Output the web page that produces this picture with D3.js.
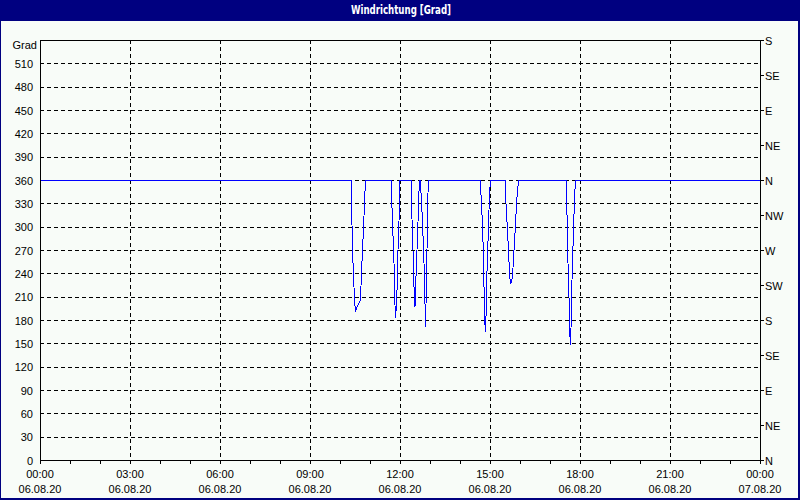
<!DOCTYPE html>
<html>
<head>
<meta charset="utf-8">
<script src="https://cdn.jsdelivr.net/npm/d3@7"></script>
<style>
  html, body { margin: 0; padding: 0; background: #f8fcf8; }
  svg { display: block; }
  text { font-family: Tahoma, "Liberation Sans", Arial, sans-serif; }
</style>
</head>
<body>
<svg id="chart" width="800" height="500"></svg>
<script>
// ---- data ----
const title = "Windrichtung [Grad]";
const yUnit = "Grad";
// time in minutes since 06.08.20 00:00
const minutes = [
  0, 620, 622, 623, 625, 629, 631, 633, 636, 640, 641, 643, 645, 647, 649, 651,
  702, 703, 705, 707, 709, 710, 711, 713, 715, 716, 718, 719, 720,
  742, 743, 746, 747, 750, 752, 754, 756, 757, 759,
  761, 762, 765, 767, 769, 770, 771, 772, 773, 774, 775, 776, 777,
  880, 882, 885, 887, 888, 889, 891, 892, 893, 895, 897, 899, 901,
  930, 932, 935, 937, 939, 941, 943, 945, 948, 951, 953, 957,
  1052, 1053, 1055, 1056, 1058, 1059, 1061, 1062, 1063, 1065, 1067, 1069, 1071,
  1440
];
const direction = [
  360, 360, 360, 334, 270, 206, 191, 195, 199, 204, 208, 240, 270, 298, 330, 360,
  360, 343, 307, 270, 236, 199, 182, 199, 236, 270, 307, 343, 360,
  360, 330, 270, 236, 197, 236, 270, 306, 330, 360,
  360, 343, 307, 270, 236, 200, 171, 200, 236, 270, 307, 343, 360,
  360, 341, 302, 261, 223, 184, 164, 184, 223, 261, 302, 341, 360,
  360, 330, 294, 270, 240, 226, 230, 236, 270, 302, 330, 360,
  360, 336, 296, 253, 210, 169, 148, 169, 210, 253, 296, 336, 360,
  360
];
const yTicks = [0, 30, 60, 90, 120, 150, 180, 210, 240, 270, 300, 330, 360, 390, 420, 450, 480, 510];
const compassTicks = [0, 45, 90, 135, 180, 225, 270, 315, 360, 405, 450, 495, 540];
const compassLabels = ["N", "NE", "E", "SE", "S", "SW", "W", "NW", "N", "NE", "E", "SE", "S"];
const xTickMinutes = [0, 180, 360, 540, 720, 900, 1080, 1260, 1440];
const xTickTimes = ["00:00", "03:00", "06:00", "09:00", "12:00", "15:00", "18:00", "21:00", "00:00"];
const xTickDates = ["06.08.20", "06.08.20", "06.08.20", "06.08.20", "06.08.20", "06.08.20", "06.08.20", "06.08.20", "07.08.20"];
const hourTicks = d3.range(0, 1441, 60);

// ---- layout ----
const W = 800, H = 500;
const plot = { left: 40, right: 760, top: 40, bottom: 460 };
const svg = d3.select("#chart");

const x = d3.scaleLinear().domain([0, 1440]).range([plot.left, plot.right]);
const y = d3.scaleLinear().domain([0, 540]).range([plot.bottom, plot.top]);

// background & frame
svg.append("rect").attr("x", 0).attr("y", 0).attr("width", W).attr("height", H).attr("fill", "#f8fcf8");
svg.append("rect").attr("x", 0).attr("y", 0).attr("width", W).attr("height", 21).attr("fill", "#000080");
svg.append("rect").attr("x", 0.5).attr("y", 0.5).attr("width", W - 1.5).attr("height", H - 1.5)
  .attr("fill", "none").attr("stroke", "#000080").attr("stroke-width", 1);
svg.append("rect").attr("x", W - 2).attr("y", 0).attr("width", 2).attr("height", H).attr("fill", "#000080");
svg.append("rect").attr("x", 0).attr("y", H - 2).attr("width", W).attr("height", 2).attr("fill", "#000080");

svg.append("text").attr("x", 401).attr("y", 14).attr("text-anchor", "middle")
  .attr("fill", "#ffffff").attr("font-weight", "bold").attr("font-size", 12)
  .attr("textLength", 100).attr("lengthAdjust", "spacingAndGlyphs")
  .style("font-family", "'Liberation Sans Narrow', 'DejaVu Sans Condensed', sans-serif")
  .text(title);

// grid
const grid = svg.append("g").attr("shape-rendering", "crispEdges")
  .attr("stroke", "#000").attr("stroke-dasharray", "4,3").attr("stroke-width", 1);
grid.selectAll("line.h").data(yTicks.filter(v => v > 0)).join("line")
  .attr("x1", plot.left).attr("x2", plot.right)
  .attr("y1", d => Math.round(y(d)) + 0.5).attr("y2", d => Math.round(y(d)) + 0.5);
grid.selectAll("line.v").data(xTickMinutes.filter(m => m > 0 && m < 1440)).join("line")
  .attr("y1", plot.top).attr("y2", plot.bottom)
  .attr("x1", d => Math.round(x(d)) + 0.5).attr("x2", d => Math.round(x(d)) + 0.5);

// data line
const line = d3.line().x((d, i) => x(minutes[i])).y(d => y(d));
svg.append("path").datum(direction)
  .attr("d", line).attr("fill", "none").attr("stroke", "#0000ff").attr("stroke-width", 1)
  .attr("shape-rendering", "crispEdges");

// axes frame
const frame = svg.append("g").attr("shape-rendering", "crispEdges").attr("stroke", "#000");
frame.append("rect").attr("x", plot.left + 0.5).attr("y", plot.top + 0.5)
  .attr("width", plot.right - plot.left).attr("height", plot.bottom - plot.top).attr("fill", "none");

// bottom axis ticks
frame.selectAll("line.xt").data(hourTicks).join("line")
  .attr("x1", d => Math.round(x(d)) + 0.5).attr("x2", d => Math.round(x(d)) + 0.5)
  .attr("y1", plot.bottom).attr("y2", plot.bottom + 4);

// right axis ticks
const y2 = d3.scaleLinear().domain([0, 540]).range([plot.bottom, plot.top]);
frame.selectAll("line.rt").data(compassTicks).join("line")
  .attr("x1", plot.right).attr("x2", plot.right + 4)
  .attr("y1", d => Math.round(y2(d)) + 0.5).attr("y2", d => Math.round(y2(d)) + 0.5);

// labels
const fs = 11;
svg.append("g").selectAll("text").data(yTicks).join("text")
  .attr("x", 33).attr("y", d => y(d) + 4.5).attr("text-anchor", "end")
  .attr("font-size", fs).attr("fill", "#000").text(d => d);
svg.append("text").attr("x", 37).attr("y", 48.5).attr("text-anchor", "end")
  .attr("font-size", fs).attr("fill", "#000").text(yUnit);

svg.append("g").selectAll("text").data(compassTicks).join("text")
  .attr("x", plot.right + 5).attr("y", d => y2(d) + 4.5).attr("text-anchor", "start")
  .attr("font-size", fs).attr("fill", "#000").text((d, i) => compassLabels[i]);

const xl = svg.append("g");
xl.selectAll("text.t").data(xTickMinutes).join("text")
  .attr("x", d => x(d)).attr("y", 478).attr("text-anchor", "middle")
  .attr("font-size", fs).attr("fill", "#000").text((d, i) => xTickTimes[i]);
xl.selectAll("text.d").data(xTickMinutes).join("text")
  .attr("x", d => x(d)).attr("y", 493).attr("text-anchor", "middle")
  .attr("font-size", fs).attr("fill", "#000").text((d, i) => xTickDates[i]);
</script>
</body>
</html>
